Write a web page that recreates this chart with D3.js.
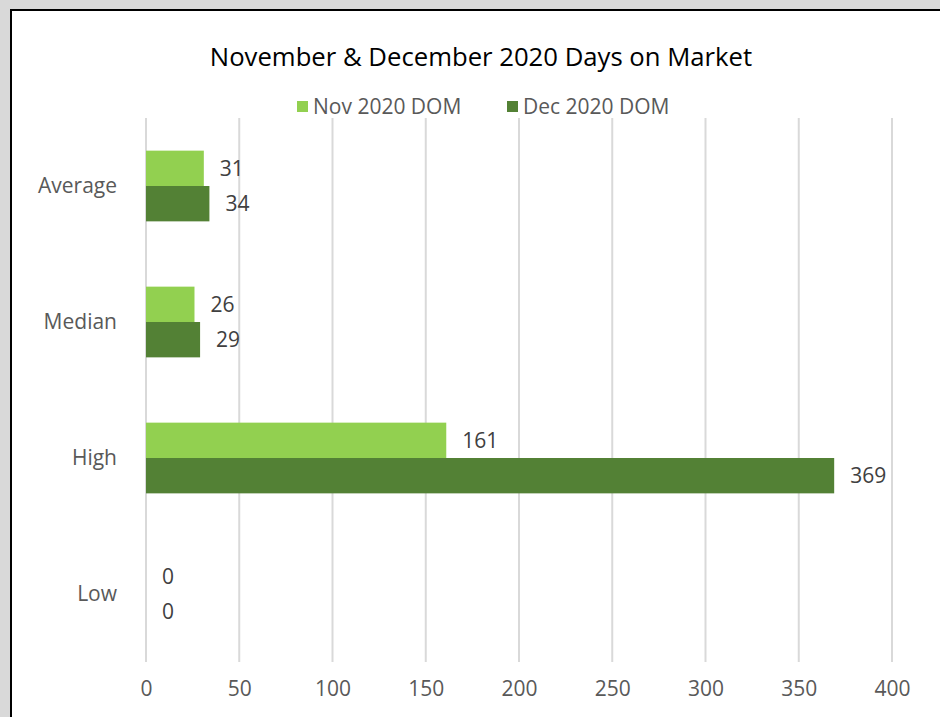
<!DOCTYPE html>
<html>
<head>
<meta charset="utf-8">
<script src="https://cdn.jsdelivr.net/npm/d3@7"></script>
<style>
  html, body { margin: 0; background: #d9d9d9; overflow: hidden; }
  svg { display: block; font-family: "Open Sans", sans-serif; overflow: hidden; }
</style>
</head>
<body>
<div id="chart"></div>
<script>
const categories = ["Average", "Median", "High", "Low"];
const series = ["Nov 2020 DOM", "Dec 2020 DOM"];
const novValues = [31, 26, 161, 0];
const decValues = [34, 29, 369, 0];
const xTicks = [0, 50, 100, 150, 200, 250, 300, 350, 400];

const W = 940, H = 717;
const margin = {top: 118, left: 146, right: 48, bottom: 55};
const width = W - margin.left - margin.right;
const height = H - margin.top - margin.bottom;
const fontSize = "21px";

const colors = d3.scaleOrdinal().domain(series).range(["#92d050", "#538135"]);

const svg = d3.select("#chart").append("svg")
    .attr("width", W)
    .attr("height", H);

// chart frame (right and bottom edges run off the page)
svg.append("rect")
    .attr("x", 11).attr("y", 10)
    .attr("width", W).attr("height", H)
    .attr("fill", "#ffffff");
svg.append("path")
    .attr("d", `M11,${H} L11,10 L${W},10`)
    .attr("fill", "none")
    .attr("stroke", "#000000")
    .attr("stroke-width", 2);

const g = svg.append("g").attr("transform", `translate(${margin.left},${margin.top})`);

const x = d3.scaleLinear().domain([0, 400]).range([0, width]);
const y = d3.scaleBand().domain(categories).range([0, height]);
const inner = d3.scaleBand().domain(series).range([y.bandwidth() * 0.24, y.bandwidth() * 0.76]);

// gridlines
g.append("g")
    .selectAll("line")
    .data(xTicks)
    .join("line")
      .attr("x1", d => x(d)).attr("x2", d => x(d))
      .attr("y1", 0).attr("y2", height)
      .attr("stroke", "#d9d9d9")
      .attr("stroke-width", 2);

// x axis labels
const xAxis = g.append("g")
    .attr("transform", `translate(0,${height})`)
    .call(d3.axisBottom(x).tickValues(xTicks).tickSize(0).tickPadding(19));
xAxis.select(".domain").remove();
xAxis.selectAll("text").attr("font-size", fontSize).attr("fill", "#595959").attr("font-family", "Open Sans, sans-serif");

// y axis labels
const yAxis = g.append("g")
    .call(d3.axisLeft(y).tickSize(0).tickPadding(29));
yAxis.select(".domain").remove();
yAxis.selectAll("text").attr("font-size", fontSize).attr("fill", "#595959").attr("font-family", "Open Sans, sans-serif");

const rows = categories.map((c, i) => [
  {cat: c, s: series[0], v: novValues[i]},
  {cat: c, s: series[1], v: decValues[i]}
]).flat();

g.append("g")
    .selectAll("rect")
    .data(rows)
    .join("rect")
      .attr("x", x(0))
      .attr("y", d => y(d.cat) + inner(d.s))
      .attr("width", d => x(d.v) - x(0))
      .attr("height", inner.bandwidth())
      .attr("fill", d => colors(d.s));

g.append("g")
    .selectAll("text")
    .data(rows)
    .join("text")
      .attr("x", d => x(d.v) + 16)
      .attr("y", d => y(d.cat) + inner(d.s) + inner.bandwidth() / 2)
      .attr("dy", "0.35em")
      .attr("font-size", fontSize)
      .attr("fill", "#404040")
      .text(d => d.v);

// title
svg.append("text")
    .attr("x", 481).attr("y", 66)
    .attr("text-anchor", "middle")
    .attr("font-size", "25.7px")
    .attr("fill", "#000000")
    .text("November & December 2020 Days on Market");

// legend
const legendX = [297, 507];
const legend = svg.append("g")
    .selectAll("g")
    .data(series)
    .join("g")
      .attr("transform", (d, i) => `translate(${legendX[i]},101)`);
legend.append("rect")
    .attr("width", 11).attr("height", 11)
    .attr("fill", d => colors(d));
legend.append("text")
    .attr("x", 16).attr("y", 6)
    .attr("dy", "0.35em")
    .attr("font-size", fontSize)
    .attr("fill", "#595959")
    .text(d => d);
</script>
</body>
</html>
